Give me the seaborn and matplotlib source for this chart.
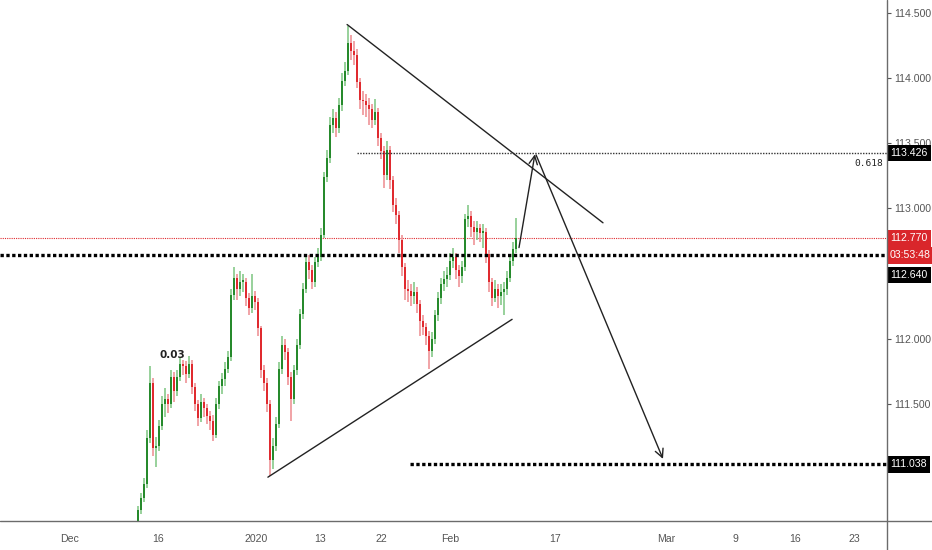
import numpy as np
import pandas as pd
import matplotlib
matplotlib.use("Agg")
import matplotlib.pyplot as plt
import matplotlib.transforms as mtrans
from matplotlib.lines import Line2D
import seaborn as sns

# USD/JPY style candles (one bar per index step)
first_open = 110.60
closes = [110.69, 110.78, 110.89, 111.24, 111.66, 111.16, 111.18, 111.33, 111.50, 111.54,
          111.50, 111.71, 111.60, 111.71, 111.81, 111.79, 111.73, 111.81, 111.63, 111.50,
          111.39, 111.52, 111.47, 111.41, 111.37, 111.26, 111.50, 111.64, 111.69, 111.77,
          111.86, 112.34, 112.47, 112.38, 112.44, 112.44, 112.31, 112.24, 112.33, 112.28,
          112.08, 111.76, 111.66, 111.50, 111.07, 111.18, 111.35, 111.77, 111.95, 111.90,
          111.71, 111.54, 111.76, 111.95, 112.19, 112.38, 112.59, 112.53, 112.44, 112.59,
          112.63, 112.80, 113.24, 113.39, 113.64, 113.69, 113.62, 113.79, 113.98, 114.05,
          114.27, 114.21, 114.18, 113.97, 113.83, 113.82, 113.79, 113.76, 113.68, 113.74,
          113.54, 113.44, 113.26, 113.45, 113.22, 113.03, 112.95, 112.76, 112.55, 112.38,
          112.37, 112.33, 112.36, 112.27, 112.14, 112.09, 112.02, 111.91, 112.00, 112.18,
          112.31, 112.42, 112.46, 112.49, 112.60, 112.63, 112.53, 112.48, 112.55, 112.92,
          112.94, 112.86, 112.82, 112.85, 112.81, 112.82, 112.65, 112.44, 112.31, 112.38,
          112.33, 112.36, 112.38, 112.47, 112.60, 112.69, 112.77]
highs = [110.72, 110.82, 110.93, 111.30, 111.79, 111.70, 111.25, 111.38, 111.56, 111.62,
         111.58, 111.76, 111.75, 111.76, 111.86, 111.84, 111.83, 111.87, 111.84, 111.66,
         111.53, 111.58, 111.55, 111.50, 111.45, 111.42, 111.55, 111.68, 111.74, 111.82,
         111.91, 112.38, 112.55, 112.50, 112.52, 112.50, 112.47, 112.35, 112.50, 112.37,
         112.31, 112.10, 111.80, 111.70, 111.53, 111.24, 111.40, 111.82, 112.02, 112.00,
         111.93, 111.75, 111.80, 112.00, 112.23, 112.43, 112.65, 112.64, 112.57, 112.63,
         112.70, 112.85, 113.28, 113.45, 113.70, 113.76, 113.74, 113.85, 114.04, 114.12,
         114.40, 114.33, 114.28, 114.22, 114.00, 113.90, 113.88, 113.85, 113.80, 113.84,
         113.77, 113.58, 113.48, 113.52, 113.48, 113.25, 113.08, 112.98, 112.80, 112.58,
         112.45, 112.42, 112.44, 112.40, 112.30, 112.18, 112.12, 112.06, 112.05, 112.22,
         112.36, 112.47, 112.52, 112.55, 112.66, 112.70, 112.66, 112.57, 112.60, 112.96,
         113.03, 112.98, 112.90, 112.90, 112.88, 112.88, 112.85, 112.68, 112.47, 112.45,
         112.42, 112.42, 112.44, 112.52, 112.64, 112.74, 112.93]
lows = [110.58, 110.66, 110.75, 110.86, 111.20, 111.10, 111.02, 111.14, 111.30, 111.40,
        111.43, 111.47, 111.52, 111.56, 111.68, 111.72, 111.66, 111.70, 111.58, 111.45,
        111.33, 111.36, 111.40, 111.35, 111.30, 111.22, 111.24, 111.46, 111.58, 111.64,
        111.74, 111.83, 112.30, 112.30, 112.33, 112.36, 112.25, 112.18, 112.20, 112.22,
        112.02, 111.70, 111.60, 111.44, 110.95, 111.00, 111.14, 111.32, 111.73, 111.84,
        111.65, 111.37, 111.50, 111.72, 111.92, 112.15, 112.35, 112.46, 112.38, 112.40,
        112.55, 112.60, 112.77, 113.20, 113.35, 113.58, 113.55, 113.58, 113.75, 113.94,
        114.02, 114.14, 114.10, 113.92, 113.76, 113.72, 113.70, 113.64, 113.62, 113.64,
        113.48, 113.38, 113.16, 113.22, 113.15, 112.97, 112.88, 112.66, 112.48, 112.30,
        112.28, 112.25, 112.27, 112.20, 112.02, 112.03, 111.95, 111.77, 111.86, 111.96,
        112.14, 112.27, 112.37, 112.40, 112.45, 112.54, 112.46, 112.40, 112.43, 112.52,
        112.86, 112.78, 112.72, 112.76, 112.74, 112.70, 112.58, 112.36, 112.25, 112.28,
        112.24, 112.26, 112.18, 112.34, 112.44, 112.56, 112.66]

# date axis (bar index positions of TradingView's labels)
tick_pos = [-22.8, 6.6, 39.5, 60.7, 81.2, 104.2, 139, 176.2, 199, 219, 238.7]
tick_lab = ["Dec", "16", "2020", "13", "22", "Feb", "17", "Mar", "9", "16", "23"]
price_ticks = [111.0, 111.5, 112.0, 112.5, 113.0, 113.5, 114.0, 114.5]
# 112.500 sits fully under the 112.640 tag in the reference
price_labels = ["111.000", "111.500", "112.000", "", "113.000", "113.500", "114.000", "114.500"]

# drawings
fib_level = 113.426
last_price = 112.770
support_level = 112.640
target_level = 111.038
upper_trend = ([69.7, 155.0], [114.41, 112.89])
lower_trend = ([43.3, 124.7], [110.94, 112.15])
arrow_up = ((127.0, 112.70), (132.3, 113.415))
arrow_down = ((132.7, 113.41), (175.0, 111.08))

sns.set_theme(style="white")
plt.rcParams["font.family"] = ["Liberation Sans", "DejaVu Sans"]

GREEN = "#268a2c"
RED = "#e02a2f"
GREEN_W = "#86c98a"
RED_W = "#ef9497"

df = pd.DataFrame({"c": closes, "h": highs, "l": lows})
df["o"] = [first_open] + closes[:-1]
df["i"] = np.arange(len(df))
up = df["c"] >= df["o"]

fig = plt.figure(figsize=(9.32, 5.5), dpi=100)
ax = fig.add_axes([0, 29 / 550, 887 / 932, 521 / 550])
ax.set_facecolor("white")

# wicks then bodies
ax.vlines(df["i"], df["l"], df["h"], colors=np.where(up, GREEN_W, RED_W), lw=1.2, zorder=2)
body_lo = np.minimum(df["o"], df["c"])
body_h = np.maximum((df["c"] - df["o"]).abs(), 0.015)
ax.bar(df["i"], body_h, bottom=body_lo, width=0.95,
       color=np.where(up, GREEN, RED), linewidth=0, zorder=3)

# horizontal levels
xmin, xmax = -46, 249.67
ax.axhline(last_price, color="#e02a2f", lw=0.8, ls=(0, (1, 1)), zorder=1)
ax.axhline(support_level, color="black", lw=2.4, ls=(0, (1.0, 0.75)), zorder=4)
ax.hlines(fib_level, 73, xmax, color="#333333", lw=1.0, ls=(0, (1, 1)), zorder=4)
ax.hlines(target_level, 90.7, xmax, color="black", lw=2.4, ls=(0, (1.0, 0.75)), zorder=4)
ax.text(248.5, fib_level - 0.045, "0.618", ha="right", va="top", fontsize=6.8,
        family="DejaVu Sans Mono", color="#222222")

# trend lines and arrows
ax.plot(*upper_trend, color="#222222", lw=1.0, zorder=5)
ax.plot(*lower_trend, color="#222222", lw=1.0, zorder=5)
for (x0, y0), (x1, y1) in (arrow_up, arrow_down):
    ax.annotate("", xy=(x1, y1), xytext=(x0, y0),
                arrowprops=dict(arrowstyle="->,head_length=0.5,head_width=0.25",
                                color="#222222", lw=1.0, shrinkA=0, shrinkB=0), zorder=5)
ax.text(11.3, 111.84, "0.03", ha="center", va="bottom", fontsize=7.5,
        fontweight="bold", family="DejaVu Sans", color="#222222")

ax.set_xlim(xmin, xmax)
ax.set_ylim(110.604, 114.598)

for s in ax.spines.values():
    s.set_visible(False)
ax.yaxis.tick_right()
ax.set_yticks(price_ticks)
ax.set_yticklabels(price_labels)
ax.set_xticks(tick_pos)
ax.set_xticklabels(tick_lab)
ax.tick_params(axis="both", colors="#555555", labelsize=7.6, length=3, width=0.8,
               direction="out", pad=2)
ax.tick_params(axis="x", pad=6)

# axis frame lines across the whole figure
fig.add_artist(Line2D([887 / 932, 887 / 932], [0, 1], color="#6b6b6b", lw=1.0,
                      transform=fig.transFigure))
fig.add_artist(Line2D([0, 1], [29 / 550, 29 / 550], color="#6b6b6b", lw=1.0,
                      transform=fig.transFigure))

# price tags on the scale
trans = mtrans.blended_transform_factory(ax.transAxes, ax.transData)
tags = [
    (fib_level, "113.426", "black"),
    (last_price, "112.770", "#d9262b"),
    (support_level, "03:53:48", "#d9262b"),
    (support_level - 0.148, "112.640", "black"),
    (target_level, "111.038", "black"),
]
for y, txt, col in tags:
    ax.text(1.0035, y, txt, transform=trans, ha="left", va="center", fontsize=7.6,
            color="white", clip_on=False, zorder=10,
            bbox=dict(boxstyle="square,pad=0.3", fc=col, ec="none"))

fig.savefig("out.png", dpi=100)
